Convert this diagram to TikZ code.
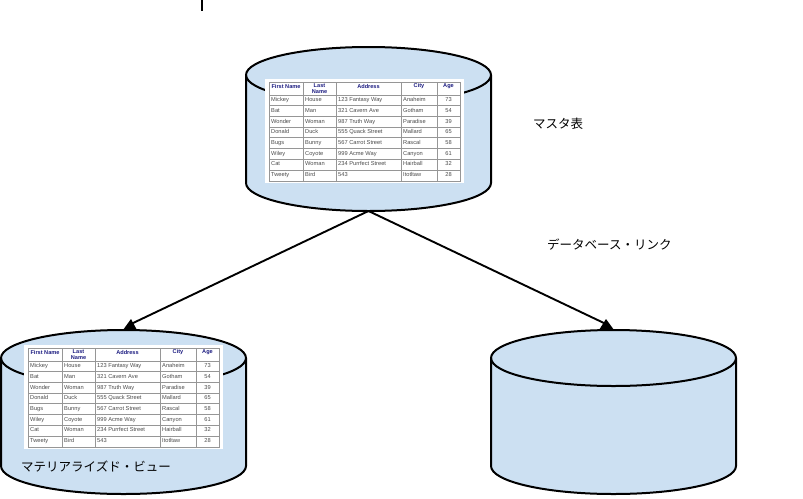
\documentclass[tikz,border=0pt]{standalone}
\usepackage{fontspec}
\setmainfont{Liberation Sans}
\newfontfamily\cjk{Noto Sans CJK JP}
\definecolor{dbblue}{RGB}{204,224,242}
\definecolor{headblue}{RGB}{30,30,130}
\definecolor{rulegrey}{RGB}{150,150,150}
\tikzset{
  dbstore/.style={fill=dbblue, draw=black, line width=2pt, line join=round},
  caption/.style={font=\cjk\fontsize{12.5}{14}\selectfont, inner sep=0pt},
  headcell/.style={font=\fontsize{5.6}{6}\selectfont\bfseries, text=headblue, align=center, inner sep=0pt},
  cell/.style={font=\fontsize{5.7}{6}\selectfont, text=black!70, inner sep=0pt},
  link/.style={line width=1.9pt, line cap=round},
  tiptri/.style={fill=black, draw=none}
}
% one drum, given by the centre of its side
\newcommand{\dbdrum}[3]{
  \coordinate (#1top) at (#2,#3+82);
  \coordinate (#1bottom) at (#2,#3-82);
  \draw[dbstore] (#2-122.5,#3+54) arc[start angle=180, end angle=0, x radius=122.5, y radius=28]
    -- (#2+122.5,#3-54) arc[start angle=360, end angle=180, x radius=122.5, y radius=28] -- cycle;
  \draw[dbstore, fill=none] (#2-122.5,#3+54) arc[start angle=180, end angle=360, x radius=122.5, y radius=28];
}
% one table, drawn from its top left corner
\newcommand{\persontable}[3]{
  \begin{scope}[shift={(#2,#3)}]
    \fill[white] (0,0) rectangle (199,-104);
    \draw[rulegrey, line width=0.7pt] (4,-3) rectangle (195,-102);
    \draw[rulegrey, line width=0.7pt] (38,-3) -- (38,-102);
    \draw[rulegrey, line width=0.7pt] (71,-3) -- (71,-102);
    \draw[rulegrey, line width=0.7pt] (136,-3) -- (136,-102);
    \draw[rulegrey, line width=0.7pt] (172,-3) -- (172,-102);
    \foreach \y in {16,26.7,37.4,48.1,58.8,69.5,80.2,90.9}
      \draw[rulegrey, line width=0.7pt] (4,-\y) -- (195,-\y);
    \node[headcell] (#1h1) at (21,-7.5) {First Name};
    \node[headcell] (#1h2) at (54.5,-10) {Last\\Name};
    \node[headcell] (#1h3) at (103.5,-7.5) {Address};
    \node[headcell] (#1h4) at (154,-7.5) {City};
    \node[headcell] (#1h5) at (183.5,-7.5) {Age};
    \foreach \first/\last/\addr/\city/\age [count=\r] in {
      Mickey/House/123 Fantasy Way/Anaheim/73,
      Bat/Man/321 Cavern Ave/Gotham/54,
      Wonder/Woman/987 Truth Way/Paradise/39,
      Donald/Duck/555 Quack Street/Mallard/65,
      Bugs/Bunny/567 Carrot Street/Rascal/58,
      Wiley/Coyote/999 Acme Way/Canyon/61,
      Cat/Woman/234 Purrfect Street/Hairball/32,
      Tweety/Bird/543/Itotltaw/28}{
      \node[cell, anchor=base west] (#1a\r) at (6,-10.7*\r-12) {\first};
      \node[cell, anchor=base west] (#1b\r) at (40,-10.7*\r-12) {\last};
      \node[cell, anchor=base west] (#1c\r) at (73,-10.7*\r-12) {\addr};
      \node[cell, anchor=base west] (#1d\r) at (138,-10.7*\r-12) {\city};
      \node[cell, anchor=base] (#1e\r) at (183.5,-10.7*\r-12) {\age};
    }
  \end{scope}
}
\begin{document}
\begin{tikzpicture}[x=1pt, y=1pt]
  \useasboundingbox (0,0) rectangle (803,-498);

  \dbdrum{master}{368.5}{-129}
  \dbdrum{mview}{123.5}{-412}
  \dbdrum{remote}{613.5}{-412}

  \persontable{m}{265}{-79}
  \persontable{v}{24}{-345}

  \coordinate (mtip) at (131,-324);
  \coordinate (rtip) at (606,-324);
  \draw[link] (masterbottom) -- (mtip);
  \draw[link] (masterbottom) -- (rtip);
  \fill[tiptri] (131,-319) -- (123,-330) -- (137,-330) -- cycle;
  \fill[tiptri] (606,-319) -- (599,-330) -- (614,-330) -- cycle;

  \draw[line width=2pt] (202,0) -- (202,-11);

  \node[caption, anchor=west] (mastercap) at (533,-124) {マスタ表};
  \node[caption, anchor=west] (linkcap) at (547,-245) {データベース・リンク};
  \node[caption, anchor=west] (viewcap) at (21,-466) {マテリアライズド・ビュー};
\end{tikzpicture}
\end{document}
